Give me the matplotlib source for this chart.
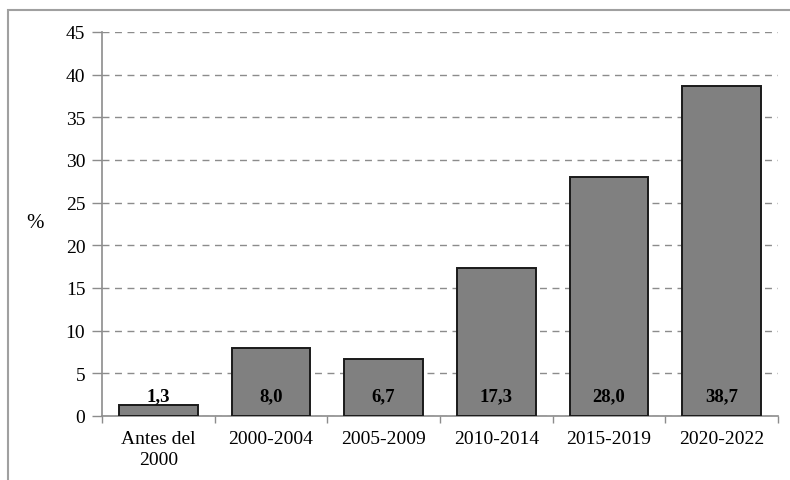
import matplotlib.pyplot as plt
from matplotlib.patches import Rectangle

categorias = ["Antes del\n2000", "2000-2004", "2005-2009", "2010-2014", "2015-2019", "2020-2022"]
valores = [1.3, 8.0, 6.7, 17.3, 28.0, 38.7]
etiquetas = ["1,3", "8,0", "6,7", "17,3", "28,0", "38,7"]
yticks = [0, 5, 10, 15, 20, 25, 30, 35, 40, 45]

plt.rcParams['font.family'] = ['Liberation Serif', 'DejaVu Serif']

fig = plt.figure(figsize=(7.9, 4.81), dpi=100)
ax = fig.add_axes([102 / 790, 1 - 417 / 481, (778 - 102) / 790, (417 - 33) / 481])

# marco exterior
fig.patches.append(Rectangle((8 / 790, -0.1), 1.2, 1.1 - 11 / 481, transform=fig.transFigure,
                             fill=False, edgecolor='#a0a0a0', lw=1.5))

x = list(range(len(categorias)))
ax.bar(x, valores, width=0.7, color='#808080', edgecolor='#1a1a1a', linewidth=1.4, zorder=3)

for xi, lab in zip(x, etiquetas):
    ax.text(xi, 2.4, lab, ha='center', va='center', fontsize=13.5, fontweight='bold', zorder=4)

ax.set_xlim(-0.5, len(categorias) - 0.5)
ax.set_ylim(0, 45)
ax.set_yticks(yticks)
ax.yaxis.grid(True, linestyle=(0, (5, 4)), color='#8c8c8c', lw=1, zorder=0)
ax.set_xticks(x)
ax.set_xticklabels(categorias, fontsize=14, linespacing=1.35)
ax.set_xticks([i - 0.5 for i in range(len(categorias) + 1)], minor=True)
ax.tick_params(axis='x', which='major', length=0, pad=10)
ax.tick_params(axis='x', which='minor', length=5, color='#8c8c8c', width=1)
ax.tick_params(axis='y', length=7, color='#8c8c8c', width=1, labelsize=14, pad=5)

for s in ['top', 'right']:
    ax.spines[s].set_visible(False)
for s in ['left', 'bottom']:
    ax.spines[s].set_color('#8c8c8c')
    ax.spines[s].set_linewidth(1.2)

fig.text(35 / 790, 1 - 224 / 481, "%", ha='center', va='center', fontsize=15)

fig.savefig("out.png", dpi=100)
